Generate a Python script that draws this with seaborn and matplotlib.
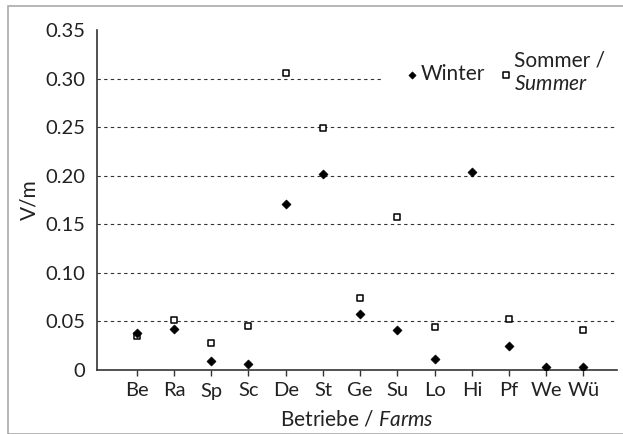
import numpy as np
import pandas as pd
import matplotlib
matplotlib.use("Agg")
import matplotlib.pyplot as plt
import seaborn as sns
from matplotlib.patches import Rectangle

farms = ["Be", "Ra", "Sp", "Sc", "De", "St", "Ge", "Su", "Lo", "Hi", "Pf", "We", "Wü"]
winter = [0.038, 0.042, 0.009, 0.006, 0.171, 0.202, 0.058, 0.041, 0.011, 0.204, 0.025, 0.003, 0.003]
summer = [0.035, 0.051, 0.028, 0.045, 0.306, 0.249, 0.074, 0.158, 0.044, np.nan, 0.053, np.nan, 0.041]
yticks = [0, 0.05, 0.10, 0.15, 0.20, 0.25, 0.30, 0.35]
ytick_labels = ["0", "0.05", "0.10", "0.15", "0.20", "0.25", "0.30", "0.35"]

sns.set_style("white")
plt.rcParams["font.family"] = ["Lato", "DejaVu Sans"]
plt.rcParams["mathtext.fontset"] = "custom"
plt.rcParams["mathtext.rm"] = "Lato"
plt.rcParams["mathtext.it"] = "Lato:italic"

df = pd.DataFrame({"farm": farms, "Winter": winter, "Summer": summer})

fig = plt.figure(figsize=(6.23, 4.34), dpi=100)
fig.patches.append(Rectangle((8 / 623, 0), 1, 1 - 6 / 434, transform=fig.transFigure,
                             fill=False, edgecolor="#aaaaaa", linewidth=1.2, zorder=0))
ax = fig.add_axes([97 / 623, 1 - 370 / 434, (617 - 97) / 623, (370 - 30) / 434])

sns.scatterplot(data=df, x="farm", y="Summer", marker="s", s=22, facecolor="white",
                edgecolor="black", linewidth=1.1, ax=ax, zorder=3, label="Sommer /\n$\\mathit{Summer}$")
sns.scatterplot(data=df, x="farm", y="Winter", marker="D", s=22, color="black",
                edgecolor="black", ax=ax, zorder=4, label="Winter")

ax.set_ylim(0, 0.35)
ax.set_xlim(-1.07, 12.9)
ax.set_yticks(yticks)
ax.set_yticklabels(ytick_labels)
ax.grid(False)
for yv in yticks[1:-1]:
    ax.axhline(yv, linestyle=(0, (3, 3)), color="#333333", linewidth=0.8, zorder=1)
for s in ["top", "right"]:
    ax.spines[s].set_visible(False)
for s in ["left", "bottom"]:
    ax.spines[s].set_color("#333333")
    ax.spines[s].set_linewidth(1.2)
ax.tick_params(axis="x", bottom=True, length=4, width=1, color="#333333", labelsize=14.5, pad=5)
ax.tick_params(axis="y", left=False, labelsize=14.5, pad=5)
for t in ax.get_xticklabels() + ax.get_yticklabels():
    t.set_color("#222222")
ax.set_xlabel("Betriebe / $\\mathit{Farms}$", fontsize=15, color="#222222", labelpad=7)
ax.set_ylabel("V/m", fontsize=15, color="#222222", labelpad=4)

h, l = ax.get_legend_handles_labels()
leg = ax.legend([h[1], h[0]], [l[1], l[0]], ncol=2, loc="center left",
                bbox_to_anchor=(0.55, 0.876), frameon=True, facecolor="white", edgecolor="white",
                framealpha=1, fontsize=15, handletextpad=0.0, columnspacing=0.6,
                handlelength=0.8, borderpad=1.0, labelspacing=0.2, markerscale=0.8,
                borderaxespad=0)
leg.set_zorder(5)
for t in leg.get_texts():
    t.set_color("#222222")

fig.savefig("out.png", dpi=100)
